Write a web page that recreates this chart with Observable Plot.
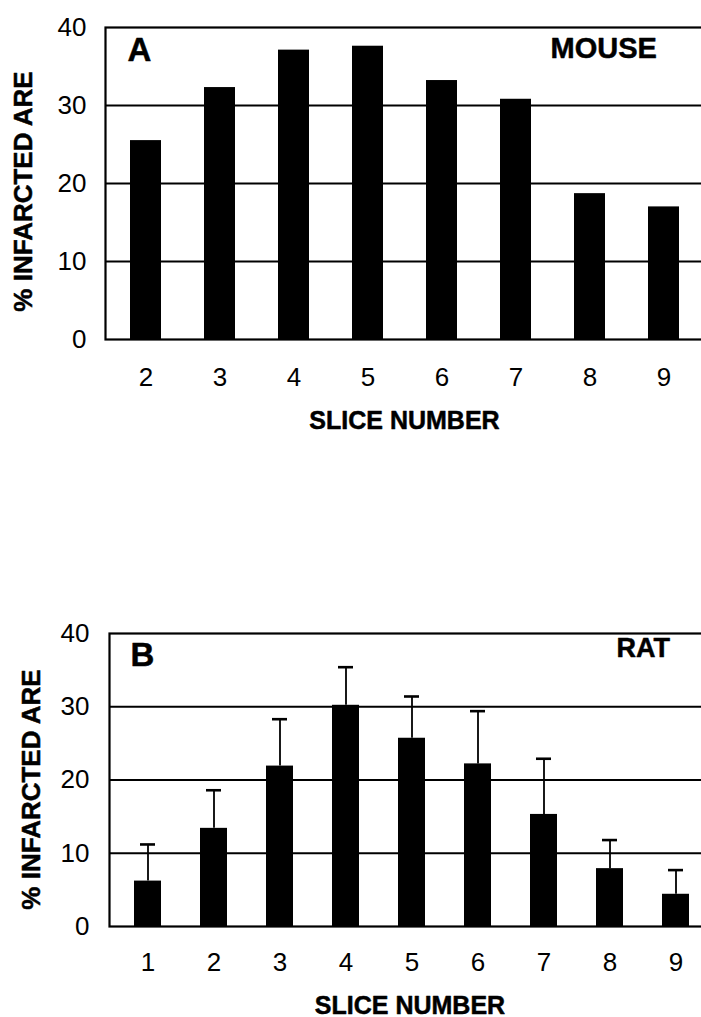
<!DOCTYPE html>
<html>
<head>
<meta charset="utf-8">
<script src="https://cdn.jsdelivr.net/npm/d3@7"></script>
<script src="https://cdn.jsdelivr.net/npm/@observablehq/plot@0.6"></script>
<style>
  html, body { margin: 0; padding: 0; background: #fff; overflow: hidden; }
  #wrap { position: relative; width: 701px; height: 1017px; }
  #top, #bottom { position: absolute; left: 0; }
  #top { top: 0; }
  #bottom { top: 560px; }
  svg { overflow: hidden; max-width: none !important; }
  svg [aria-label$="tick label"], svg [aria-label$="tick label"] text { font-size: 26px !important; }
</style>
</head>
<body>
<div id="wrap"><div id="top"></div><div id="bottom"></div></div>
<script>
// ---- data ----
const mouseSlices = [2, 3, 4, 5, 6, 7, 8, 9];
const mouseValues = [25.5, 32.3, 37.1, 37.6, 33.2, 30.8, 18.7, 17.0];

const ratSlices = [1, 2, 3, 4, 5, 6, 7, 8, 9];
const ratValues = [6.2, 13.4, 21.9, 30.2, 25.7, 22.2, 15.3, 7.9, 4.4];
const ratErrors = [5.0, 5.2, 6.4, 5.2, 5.7, 7.2, 7.6, 3.9, 3.3];

const yTicks = [0, 10, 20, 30, 40];
const gridValues = [10, 20, 30];

const yTitle = "% INFARCTED ARE";
const xTitle = "SLICE NUMBER";

const mouseData = mouseSlices.map((s, i) => ({slice: String(s), value: mouseValues[i]}));
const ratData = ratSlices.map((s, i) => ({slice: String(s), value: ratValues[i], err: ratErrors[i]}));

const FONT = "'Liberation Sans', Arial, Helvetica, sans-serif";
const boldText = {fontWeight: "bold", stroke: "#000", strokeWidth: 0.5, fill: "#000"};

function panel({data, domain, xRange, height, mt, mb, ml, mr, tickPadX, tickPadY,
                letter, letterDx, letterDy, name, nameDx, nameDy, nameSize,
                yTitleDx, yTitleDy, xTitleDy, errors}) {
  const marks = [
    Plot.ruleY(gridValues, {stroke: "#000", strokeWidth: 1.8}),
    Plot.barY(data, {x: "slice", y: "value", fill: "#000"})
  ];
  if (errors) {
    marks.push(
      Plot.ruleX(data, {x: "slice", y1: "value", y2: d => d.value + d.err, stroke: "#000", strokeWidth: 1.8}),
      Plot.tickY(data, {x: "slice", y: d => d.value + d.err, stroke: "#000", strokeWidth: 2.6, insetLeft: 6, insetRight: 6})
    );
  }
  marks.push(
    Plot.axisX({tickSize: 0, tickPadding: tickPadX, fontSize: 26, label: null}),
    Plot.axisY({ticks: yTicks, tickSize: 0, tickPadding: tickPadY, fontSize: 26, label: null}),
    Plot.frame({stroke: "#000", strokeWidth: 2.2}),
    Plot.text([letter], {text: d => d, frameAnchor: "top-left", textAnchor: "start", lineAnchor: "middle",
      dx: letterDx, dy: letterDy, fontSize: 33, ...boldText}),
    Plot.text([name], {text: d => d, frameAnchor: "top-left", textAnchor: "start", lineAnchor: "middle",
      dx: nameDx, dy: nameDy, fontSize: nameSize, ...boldText}),
    Plot.text([yTitle], {text: d => d, frameAnchor: "left", textAnchor: "middle", lineAnchor: "middle",
      rotate: -90, dx: yTitleDx, dy: yTitleDy, fontSize: 26, ...boldText}),
    Plot.text([xTitle], {text: d => d, frameAnchor: "bottom", textAnchor: "middle", lineAnchor: "middle",
      dy: xTitleDy, fontSize: 25, ...boldText})
  );
  return Plot.plot({
    width: 701,
    height,
    marginTop: mt,
    marginBottom: mb,
    marginLeft: ml,
    marginRight: mr,
    style: {fontFamily: FONT, fontSize: "26px", color: "#000", background: "#fff", overflow: "hidden"},
    x: {type: "band", domain, range: xRange, paddingInner: errors ? 0.594 : 0.585,
        paddingOuter: errors ? 0.297 : 0.2925, align: 0.5},
    y: {domain: [0, 40]},
    marks
  });
}

document.getElementById("top").appendChild(panel({
  data: mouseData, domain: mouseSlices.map(String), xRange: [105.6, 703.3],
  height: 440, mt: 27, mb: 101, ml: 105, mr: -2, tickPadX: 28, tickPadY: 19,
  letter: "A", letterDx: 22, letterDy: 23, name: "MOUSE", nameDx: 445, nameDy: 21, nameSize: 29,
  yTitleDx: -81.5, yTitleDy: 8, xTitleDy: 81, errors: false
}));

document.getElementById("bottom").appendChild(panel({
  data: ratData, domain: ratSlices.map(String), xRange: [111.75, 710.25],
  height: 457, mt: 73, mb: 91, ml: 109, mr: -9, tickPadX: 26, tickPadY: 20,
  letter: "B", letterDx: 21, letterDy: 22, name: "RAT", nameDx: 507, nameDy: 15, nameSize: 27,
  yTitleDx: -78, yTitleDy: 9.5, xTitleDy: 79, errors: true
}));
</script>
</body>
</html>
